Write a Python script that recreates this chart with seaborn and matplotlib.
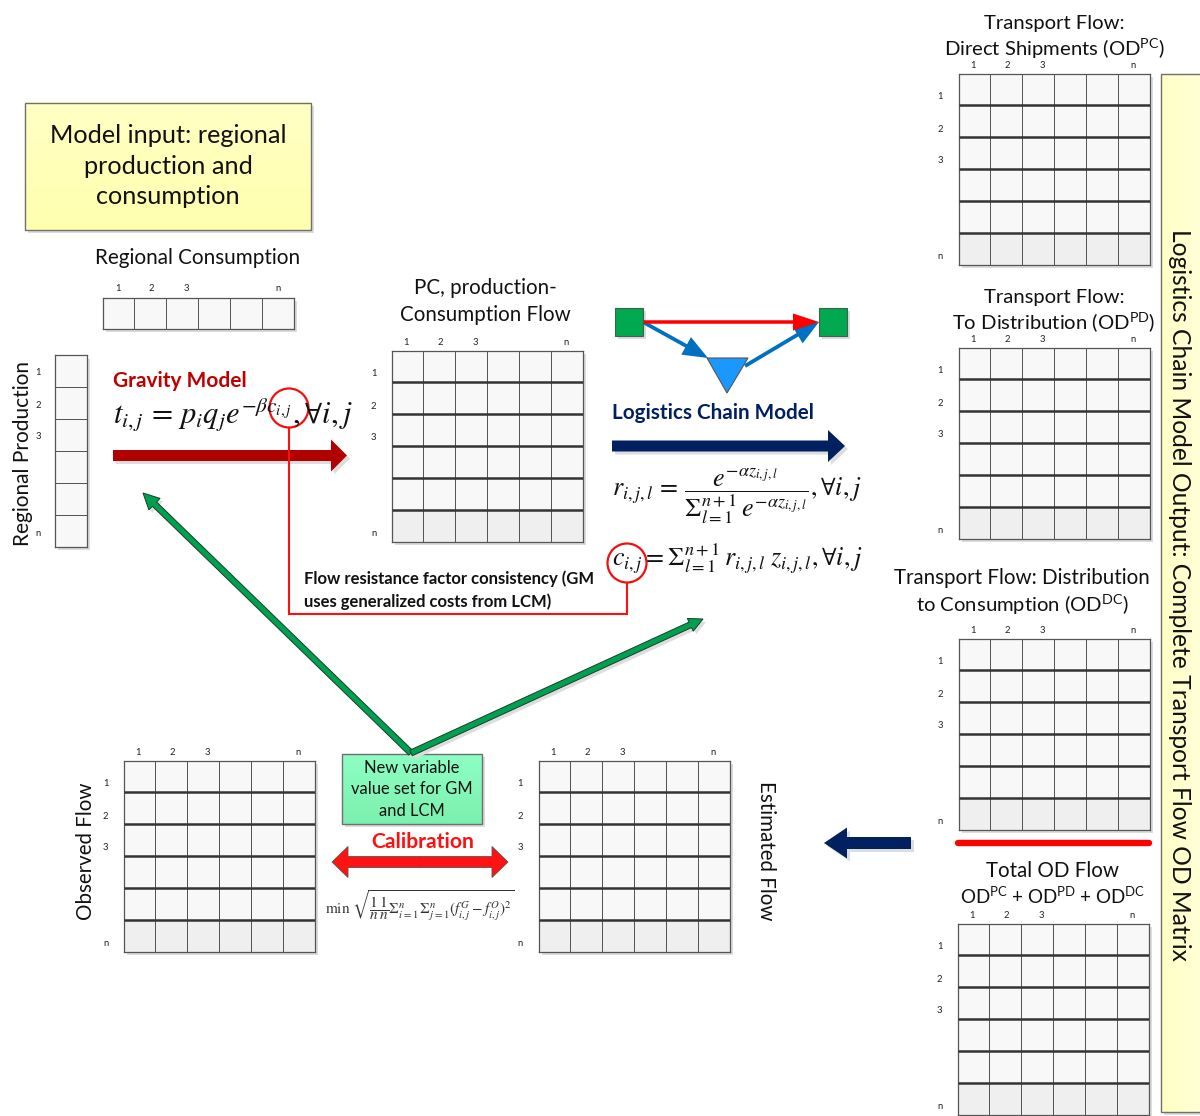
import numpy as np
import matplotlib
matplotlib.use("Agg")
import matplotlib.pyplot as plt
from matplotlib.colors import ListedColormap
from matplotlib.patches import Polygon, Rectangle, Circle
import seaborn as sns

W, H = 1200, 1116
FONT = "Lato"
sns.set_theme(style="white")
plt.rcParams["font.family"] = [FONT, "DejaVu Sans"]
plt.rcParams["mathtext.fontset"] = "custom"
plt.rcParams["mathtext.rm"] = FONT
plt.rcParams["mathtext.it"] = FONT + ":italic"
plt.rcParams["mathtext.bf"] = FONT + ":bold"

# ---- data ----
index_labels = ["1", "2", "3", "n"]
col_offsets = [15, 49, 84, 175]
row_offsets = [22, 55, 86, 182]
row_offsets_single = [16, 49, 80, 177]
matrix_names = ["PC", "Direct", "Distribution", "Consumption", "Total", "Observed", "Estimated"]
matrix_boxes = [(391.5, 350.5), (958.5, 73.5), (958.5, 347.5), (958.5, 638.5), (957.5, 923.5), (123.5, 760.5), (538.5, 760.5)]
matrix_size = 191.5
cell_shades = [0.0, 0.0, 0.0, 0.0, 0.0, 1.0]
bar_consumption = (102.5, 297.5, 294, 328.5)
bar_production = (54.5, 355.5, 86.5, 546.5)
title_left = "Model input: regional\nproduction and\nconsumption"
title_right = "Logistics Chain Model Output: Complete Transport Flow OD Matrix"
flow_note = "Flow resistance factor consistency (GM\nuses generalized costs from LCM)"
calib_box_text = "New variable\nvalue set for GM\nand LCM"
eq_gravity = r"$t_{i,j}\,=\,p_i q_j e^{-\beta c_{i,j}},\forall i,j$"
eq_share = r"$r_{i,j,l}\,=\,\dfrac{e^{-\alpha z_{i,j,l}}}{\Sigma_{l=1}^{n+1}\, e^{-\alpha z_{i,j,l}}},\forall i,j$"
eq_cost = r"$c_{i,j}=\Sigma_{l=1}^{n+1}\, r_{i,j,l}\; z_{i,j,l},\forall i,j$"
eq_calib = r"$\min\ \sqrt{\dfrac{1}{n}\dfrac{1}{n}\Sigma_{i=1}^{n}\,\Sigma_{j=1}^{n}(f_{i,j}^{G}-f_{i,j}^{O})^2}$"

fig = plt.figure(figsize=(W / 100, H / 100), dpi=100, facecolor="white")
ax = fig.add_axes([0, 0, 1, 1])
ax.set_facecolor("white")


def shadow_rect(x0, y0, x1, y1, off=3):
    ax.add_patch(Rectangle((x0 + off, y0 + off), x1 - x0, y1 - y0, fc="#dcdcdc", ec="none", zorder=1))


def heat_axes(x0, y0, x1, y1, data, thick=True):
    shadow_rect(x0, y0, x1, y1)
    a = fig.add_axes([x0 / W, 1 - y1 / H, (x1 - x0) / W, (y1 - y0) / H])
    sns.heatmap(data, ax=a, cmap=ListedColormap(["#f8f8f8", "#efefef"]), vmin=0, vmax=1, cbar=False,
                xticklabels=False, yticklabels=False, linewidths=0.7, linecolor="#555555", square=False)
    if thick:
        a.hlines(range(1, data.shape[0]), 0, data.shape[1], color="#333333", lw=1.8, zorder=5)
    for s in a.spines.values():
        s.set_visible(True)
        s.set_color("#555555")
        s.set_linewidth(0.9)
    return a


def small(x, y, t):
    ax.text(x, y, t, fontsize=6.8, ha="center", va="center", color="#222222", zorder=6)


def arrow(p0, p1, shaft, head_w, head_l, fc, ec="none", lw=0.0, z=4, shadow=True):
    p0, p1 = np.array(p0, float), np.array(p1, float)
    d = (p1 - p0) / np.hypot(*(p1 - p0))
    n = np.array([-d[1], d[0]])
    b = p1 - d * head_l
    pts = [p0 + n * shaft / 2, b + n * shaft / 2, b + n * head_w / 2, p1,
           b - n * head_w / 2, b - n * shaft / 2, p0 - n * shaft / 2]
    if shadow:
        ax.add_patch(Polygon(np.array(pts) + 3, fc="#dddddd", ec="none", zorder=z - 0.5))
    ax.add_patch(Polygon(pts, fc=fc, ec=ec, lw=lw, zorder=z, joinstyle="miter"))


def gradient_box(x0, y0, x1, y1, c0, c1, horizontal=True):
    shadow_rect(x0, y0, x1, y1)
    c0, c1 = np.array(matplotlib.colors.to_rgb(c0)), np.array(matplotlib.colors.to_rgb(c1))
    t = np.linspace(0, 1, 64)[:, None]
    g = c0 * (1 - t) + c1 * t
    img = g[None, :, :] if horizontal else g[:, None, :]
    ax.imshow(img, extent=(x0, x1, y1, y0), aspect="auto", zorder=2)
    ax.add_patch(Rectangle((x0, y0), x1 - x0, y1 - y0, fc="none", ec="#6f6f6f", lw=1.0, zorder=3))


# ---- matrices ----
full = np.tile(np.array(cell_shades)[:, None], (1, 6))
for (x0, y0) in matrix_boxes:
    heat_axes(x0, y0, x0 + matrix_size, y0 + matrix_size, full)
    for t, dx in zip(index_labels, col_offsets):
        small(x0 + dx - 0.5, y0 - 8, t)
    for t, dy in zip(index_labels, row_offsets):
        small(x0 - 18, y0 + dy + 1, t)

x0, y0, x1, y1 = bar_consumption
heat_axes(x0, y0, x1, y1, np.zeros((1, 6)), thick=False)
for t, dx in zip(index_labels, col_offsets):
    small(x0 + dx, y0 - 9, t)
x0, y0, x1, y1 = bar_production
heat_axes(x0, y0, x1, y1, np.zeros((6, 1)), thick=False)
for t, dy in zip(index_labels, row_offsets_single):
    small(x0 - 16, y0 + dy + 1, t)

# ---- boxes ----
gradient_box(24.5, 102.5, 311, 230, "#ffffc4", "#ffffae", horizontal=False)
gradient_box(1161, 74, 1203, 1112, "#ffffc4", "#ffffd8", horizontal=True)
gradient_box(342, 754, 482, 824, "#8dffc4", "#7cf0ae", horizontal=False)

ax.text(168, 166, title_left, fontsize=18.2, ha="center", va="center", color="#111111", linespacing=1.42, zorder=5)
ax.text(1180, 595, title_right, fontsize=17.7, rotation=-90, ha="center", va="center", color="#111111", zorder=5)
ax.text(412, 789.5, calib_box_text, fontsize=11.9, ha="center", va="center", color="#111111", linespacing=1.46, zorder=5)

# ---- arrows ----
arrow((113, 455.5), (347, 455.5), 11, 32, 16, "#b00000")
arrow((612, 446), (845, 446), 11, 32, 17, "#002060")
arrow((911, 843), (824, 843), 12, 31, 23, "#002060")
arrow((411, 753), (143, 493), 6, 16, 16, "#00a050", ec="#1a3d2a", lw=0.7)
arrow((411, 753), (703, 619), 6, 14, 14, "#00a050", ec="#1a3d2a", lw=0.7)
# double arrow
c = 420
arrow((c, 862), (332, 862), 11, 31, 16, "#ff1212", ec="#555555", lw=0.6, shadow=False)
arrow((c, 862), (508, 862), 11, 31, 16, "#ff1212", ec="#555555", lw=0.6, shadow=False)
ax.add_patch(Rectangle((400, 857), 40, 10, fc="#ff1212", ec="none", zorder=5))

# heavy red divider
ax.plot([958, 1149], [843, 843], color="#ff0000", lw=4.6, solid_capstyle="round", zorder=4)

# logistic chain icon
arrow((643, 322), (708, 358), 3.8, 20, 25, "#0070c0", z=4, shadow=False)
arrow((745, 366), (819, 322), 3.8, 20, 25, "#0070c0", z=4, shadow=False)
arrow((643, 322), (819, 322), 3.5, 17, 26, "#ff0000", z=5, shadow=False)
for sx in (615, 819):
    shadow_rect(sx, 308, sx + 28, 336, off=3)
    ax.add_patch(Rectangle((sx, 308), 28, 28, fc="#00a850", ec="#3f5f4f", lw=0.8, zorder=6))
ax.add_patch(Polygon([(707, 358), (748, 358), (727, 393)], fc="#1b98ff", ec="#555555", lw=0.8, zorder=6))

# consistency link
ax.plot([289, 289, 627, 627], [428, 614, 614, 583], color="#ff1010", lw=1.5, zorder=5, solid_joinstyle="miter")
for cx, cy in ((289, 408), (627, 563)):
    ax.add_patch(Circle((cx, cy), 19.5, fc="none", ec="#f01010", lw=1.6, zorder=7))

# ---- labels ----
lab = dict(color="#111111", zorder=8)
two = dict(fontsize=14.8, ha="center", va="center", linespacing=1.47, **lab)
ax.text(197.5, 258, "Regional Consumption", fontsize=14.9, ha="center", va="center", **lab)
ax.text(23, 453, "Regional Production", fontsize=15, rotation=90, ha="center", va="center", **lab)
ax.text(485, 301.5, "PC, production-\nConsumption Flow", **two)
ax.text(86, 851, "Observed Flow", fontsize=14.8, rotation=90, ha="center", va="center", **lab)
ax.text(766, 851, "Estimated Flow", fontsize=14.8, rotation=-90, ha="center", va="center", **lab)
ax.text(1054, 23, "Transport Flow:", fontsize=14.6, ha="center", va="center", **lab)
ax.text(1054, 48.5, "Direct Shipments (OD$^{\\mathrm{PC}}$)", fontsize=14.6, ha="center", va="center", **lab)
ax.text(1054, 297, "Transport Flow:", fontsize=14.6, ha="center", va="center", **lab)
ax.text(1054, 322.5, "To Distribution (OD$^{\\mathrm{PD}}$)", fontsize=14.6, ha="center", va="center", **lab)
ax.text(1022, 578, "Transport Flow: Distribution", fontsize=14.8, ha="center", va="center", **lab)
ax.text(1022, 604.5, "to Consumption (OD$^{\\mathrm{DC}}$)", fontsize=14.6, ha="center", va="center", **lab)
ax.text(1053, 871, "Total OD Flow", fontsize=14.8, ha="center", va="center", **lab)
ax.text(1053, 896, "OD$^{\\mathrm{PC}}$ + OD$^{\\mathrm{PD}}$ + OD$^{\\mathrm{DC}}$", fontsize=13.5, ha="center", va="center", **lab)
ax.text(113, 381, "Gravity Model", fontsize=15, fontweight="bold", color="#c00000", ha="left", va="center", zorder=8)
ax.text(612, 413, "Logistics Chain Model", fontsize=14.85, fontweight="bold", color="#002060", ha="left", va="center", zorder=8)
ax.text(423, 842, "Calibration", fontsize=15.2, fontweight="bold", color="#ff1010", ha="center", va="center", zorder=8)
ax.text(304, 590, flow_note, fontsize=12, fontweight="bold", color="#111111", ha="left", va="center", linespacing=1.5, zorder=8)

ax.text(113, 415, eq_gravity, fontsize=22, math_fontfamily="stix", ha="left", va="center", **lab)
ax.text(612, 496, eq_share, fontsize=18.7, math_fontfamily="stix", ha="left", va="center", **lab)
ax.text(612, 559, eq_cost, fontsize=18.7, math_fontfamily="stix", ha="left", va="center", **lab)
ax.text(325, 906, eq_calib, fontsize=11, math_fontfamily="stix", ha="left", va="center", color="#333333", zorder=8)

ax.set_xlim(0, W)
ax.set_ylim(H, 0)
ax.axis("off")
fig.savefig("out.png", dpi=100, facecolor="white")
